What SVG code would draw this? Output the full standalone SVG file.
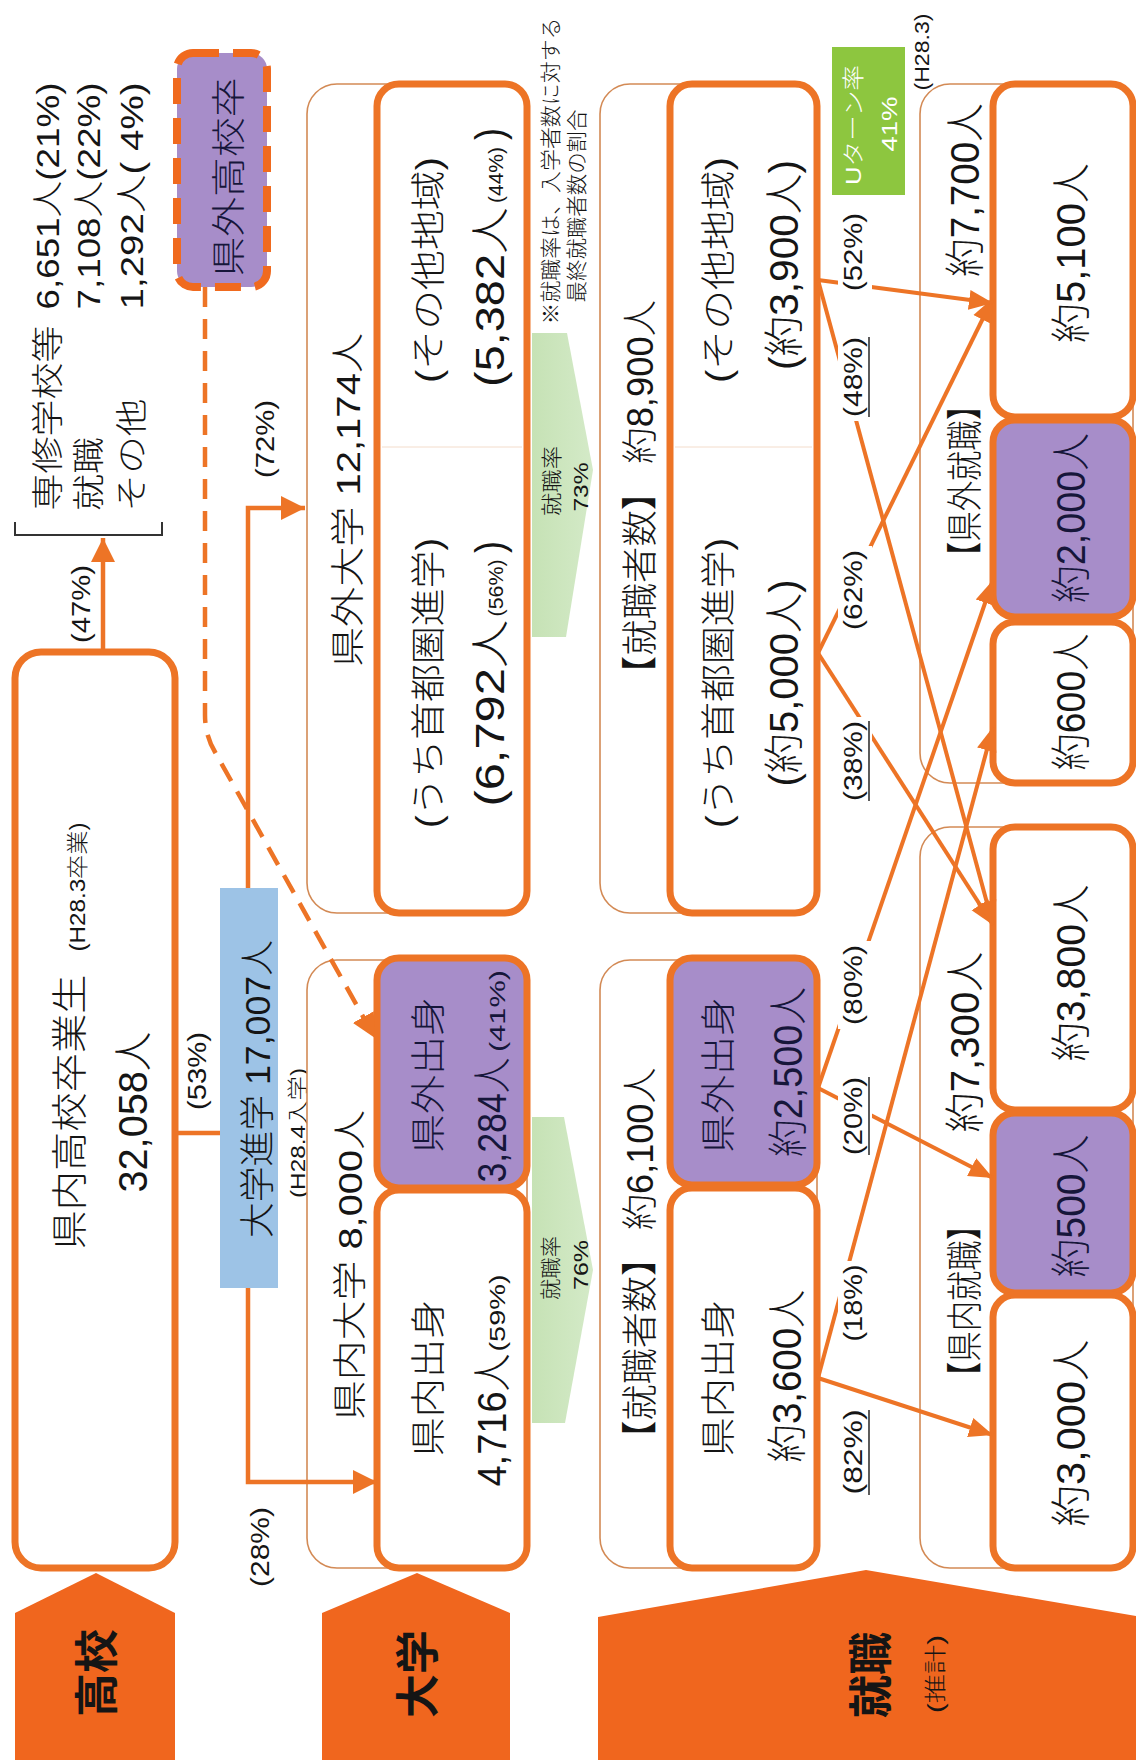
<svg xmlns="http://www.w3.org/2000/svg" width="1136" height="1760" viewBox="0 0 1136 1760">
<style>
.t{font-family:"Liberation Sans","Noto Sans CJK JP",sans-serif;font-weight:300;text-anchor:middle;dominant-baseline:central;fill:#151515}
.nv{fill:#16163a}
.b{font-weight:bold}
.box{fill:#fff;stroke:#ED7426;stroke-width:7}
.pur{fill:#A78DC9;stroke:#ED7426;stroke-width:7}
.outer{fill:#fff;stroke:#D38A55;stroke-width:1.6}
.stage{fill:#F0661E}
.ln{fill:none;stroke:#ED7426;stroke-width:4.5}
.fl{fill:none;stroke:#ED7426;stroke-width:4}
.lbg{fill:#fff}
.ul{stroke:#333;stroke-width:1.6}
.grn{fill:url(#gg)}
</style>
<defs>
<linearGradient id="gg" x1="0" y1="0" x2="1" y2="0">
<stop offset="0" stop-color="#C6E2B5"/>
<stop offset="1" stop-color="#D4EAC8"/>
</linearGradient>
<marker id="ah" markerUnits="userSpaceOnUse" markerWidth="26" markerHeight="24" refX="24" refY="12" orient="auto">
<path d="M0,0 L24,12 L0,24 z" fill="#ED7426"/>
</marker>
<marker id="ah2" markerUnits="userSpaceOnUse" markerWidth="26" markerHeight="22" refX="24" refY="11" orient="auto">
<path d="M0,1 L24,11 L0,21 z" fill="#ED7426"/>
</marker>
</defs>
<rect width="1136" height="1760" fill="#fff"/>

<!-- stage pentagons -->
<g id="stage-koukou">
<polygon class="stage" points="15,1760 15,1613 96,1573 175,1613 175,1760"/>
<text class="t b" transform="translate(97,1673) rotate(-90)" font-size="44" textLength="88" lengthAdjust="spacingAndGlyphs">高校</text>
</g>
<g id="stage-daigaku">
<polygon class="stage" points="322,1760 322,1613 417,1573 510,1613 510,1760"/>
<text class="t b" transform="translate(418,1674) rotate(-90)" font-size="44" textLength="88" lengthAdjust="spacingAndGlyphs">大学</text>
</g>
<g id="stage-shushoku">
<polygon class="stage" points="598,1760 598,1617 866,1570 1136,1616 1136,1760"/>
<text class="t b" transform="translate(871,1675) rotate(-90)" font-size="44" textLength="86" lengthAdjust="spacingAndGlyphs">就職</text>
<text class="t" transform="translate(935,1674) rotate(-90)" font-size="22" textLength="78" lengthAdjust="spacingAndGlyphs">(推計)</text>
</g>

<!-- high school -->
<g id="hs-grads">
<rect class="box" x="15" y="652" width="160" height="916" rx="26"/>
<text class="t" transform="translate(70,1112) rotate(-90)" font-size="36" textLength="275" lengthAdjust="spacingAndGlyphs">県内高校卒業生</text>
<text class="t" transform="translate(77,887) rotate(-90)" font-size="22" textLength="129" lengthAdjust="spacingAndGlyphs">(H28.3卒業)</text>
<text class="t" transform="translate(133,1112) rotate(-90)" font-size="40" textLength="161" lengthAdjust="spacingAndGlyphs">32,058人</text>
</g>
<g id="hs-other">
<path d="M15,522 V535 H162 V522" fill="none" stroke="#333" stroke-width="2"/>
<text class="t" transform="translate(48,418) rotate(-90)" font-size="32" textLength="185" lengthAdjust="spacingAndGlyphs">専修学校等</text>
<text class="t" transform="translate(48,196) rotate(-90)" font-size="32" textLength="227" lengthAdjust="spacingAndGlyphs">6,651人(21%)</text>
<text class="t" transform="translate(89,474) rotate(-90)" font-size="32" textLength="74" lengthAdjust="spacingAndGlyphs">就職</text>
<text class="t" transform="translate(89,196) rotate(-90)" font-size="32" textLength="227" lengthAdjust="spacingAndGlyphs">7,108人(22%)</text>
<text class="t" transform="translate(132,455) rotate(-90)" font-size="32" textLength="113" lengthAdjust="spacingAndGlyphs">その他</text>
<text class="t" transform="translate(132,196) rotate(-90)" font-size="32" textLength="227" lengthAdjust="spacingAndGlyphs">1,292人( 4%)</text>
</g>
<g id="hs-outside">
<rect x="177" y="53" width="90" height="234" rx="16" fill="#A78DC9" stroke="#F06A1E" stroke-width="8" stroke-dasharray="26 14"/>
<text class="t nv" transform="translate(229,177) rotate(-90)" font-size="34" textLength="199" lengthAdjust="spacingAndGlyphs">県外高校卒</text>
</g>
<g id="univ-entry">
<rect x="220" y="888" width="58" height="400" fill="#9DC3E6"/>
<text class="t" transform="translate(257,1089) rotate(-90)" font-size="35" textLength="298" lengthAdjust="spacingAndGlyphs">大学進学 17,007人</text>
<text class="t" transform="translate(297,1133) rotate(-90)" font-size="21" textLength="130" lengthAdjust="spacingAndGlyphs">(H28.4入学)</text>
</g>

<!-- university -->
<g id="univ-in">
<rect class="outer" x="307" y="960" width="220" height="608" rx="30"/>
<text class="t" transform="translate(350,1265) rotate(-90)" font-size="34" textLength="310" lengthAdjust="spacingAndGlyphs">県内大学 8,000人</text>
</g>
<g id="univ-in-outside">
<rect class="pur" x="377" y="958" width="150" height="230" rx="22"/>
<text class="t nv" transform="translate(428,1075) rotate(-90)" font-size="35" textLength="156" lengthAdjust="spacingAndGlyphs">県外出身</text>
<text class="t nv" transform="translate(492,1120) rotate(-90)" font-size="40" textLength="125" lengthAdjust="spacingAndGlyphs">3,284人</text>
<text class="t nv" transform="translate(497,1011) rotate(-90)" font-size="22" textLength="82" lengthAdjust="spacingAndGlyphs">(41%)</text>
</g>
<g id="univ-in-local">
<rect class="box" x="377" y="1190" width="150" height="378" rx="22"/>
<text class="t" transform="translate(428,1378) rotate(-90)" font-size="35" textLength="157" lengthAdjust="spacingAndGlyphs">県内出身</text>
<text class="t" transform="translate(492,1420) rotate(-90)" font-size="40" textLength="133" lengthAdjust="spacingAndGlyphs">4,716人</text>
<text class="t" transform="translate(497,1313) rotate(-90)" font-size="22" textLength="77" lengthAdjust="spacingAndGlyphs">(59%)</text>
</g>
<g id="univ-out">
<rect class="outer" x="307" y="84" width="220" height="829" rx="30"/>
<text class="t" transform="translate(348,500) rotate(-90)" font-size="34" textLength="334" lengthAdjust="spacingAndGlyphs">県外大学 12,174人</text>
<rect class="box" x="377" y="84" width="150" height="829" rx="22"/>
<line x1="382" y1="447" x2="522" y2="447" stroke="#F3DCCB" stroke-width="1"/>
</g>
<g id="univ-out-capital">
<text class="t" transform="translate(428,683) rotate(-90)" font-size="35" textLength="290" lengthAdjust="spacingAndGlyphs">(うち首都圏進学)</text>
<text class="t" transform="translate(490,713) rotate(-90)" font-size="40" textLength="187" lengthAdjust="spacingAndGlyphs">(6,792人</text>
<text class="t" transform="translate(496,588) rotate(-90)" font-size="20" textLength="57" lengthAdjust="spacingAndGlyphs">(56%)</text>
<text class="t" transform="translate(490,547) rotate(-90)" font-size="40" textLength="12" lengthAdjust="spacingAndGlyphs">)</text>
</g>
<g id="univ-out-other">
<text class="t" transform="translate(428,270) rotate(-90)" font-size="35" textLength="226" lengthAdjust="spacingAndGlyphs">(その他地域)</text>
<text class="t" transform="translate(490,297) rotate(-90)" font-size="40" textLength="180" lengthAdjust="spacingAndGlyphs">(5,382人</text>
<text class="t" transform="translate(496,175) rotate(-90)" font-size="20" textLength="56" lengthAdjust="spacingAndGlyphs">(44%)</text>
<text class="t" transform="translate(490,134) rotate(-90)" font-size="40" textLength="12" lengthAdjust="spacingAndGlyphs">)</text>
</g>

<!-- employment rate arrows -->
<g id="rate-73">
<polygon class="grn" points="532,333 567,333 593,470 566,637 532,637"/>
<text class="t" transform="translate(551,481) rotate(-90)" font-size="21" textLength="70" lengthAdjust="spacingAndGlyphs">就職率</text>
<text class="t" transform="translate(580,487) rotate(-90)" font-size="21" textLength="49" lengthAdjust="spacingAndGlyphs">73%</text>
</g>
<g id="rate-76">
<polygon class="grn" points="532,1117 564,1117 593,1270 565,1423 532,1423"/>
<text class="t" transform="translate(550,1268) rotate(-90)" font-size="21" textLength="64" lengthAdjust="spacingAndGlyphs">就職率</text>
<text class="t" transform="translate(580,1265) rotate(-90)" font-size="21" textLength="50" lengthAdjust="spacingAndGlyphs">76%</text>
</g>
<g id="note">
<text class="t" transform="translate(550,171) rotate(-90)" font-size="21" textLength="307" lengthAdjust="spacingAndGlyphs">※就職率は、入学者数に対する</text>
<text class="t" transform="translate(576,206) rotate(-90)" font-size="21" textLength="193" lengthAdjust="spacingAndGlyphs">最終就職者数の割合</text>
</g>

<!-- employment by origin -->
<g id="emp-in">
<rect class="outer" x="600" y="960" width="217" height="608" rx="30"/>
<text class="t" transform="translate(640,1262) rotate(-90)" font-size="36" textLength="389" lengthAdjust="spacingAndGlyphs">【就職者数】 約6,100人</text>
</g>
<g id="emp-in-outside">
<rect class="pur" x="670" y="958" width="147" height="227" rx="22"/>
<text class="t nv" transform="translate(718,1075) rotate(-90)" font-size="35" textLength="156" lengthAdjust="spacingAndGlyphs">県外出身</text>
<text class="t nv" transform="translate(788,1072) rotate(-90)" font-size="40" textLength="170" lengthAdjust="spacingAndGlyphs">約2,500人</text>
</g>
<g id="emp-in-local">
<rect class="box" x="670" y="1188" width="147" height="380" rx="22"/>
<text class="t" transform="translate(718,1378) rotate(-90)" font-size="35" textLength="157" lengthAdjust="spacingAndGlyphs">県内出身</text>
<text class="t" transform="translate(787,1376) rotate(-90)" font-size="40" textLength="173" lengthAdjust="spacingAndGlyphs">約3,600人</text>
</g>
<g id="emp-out">
<rect class="outer" x="600" y="84" width="217" height="829" rx="30"/>
<text class="t" transform="translate(640,496) rotate(-90)" font-size="36" textLength="392" lengthAdjust="spacingAndGlyphs">【就職者数】 約8,900人</text>
<rect class="box" x="670" y="84" width="147" height="829" rx="22"/>
<line x1="675" y1="447" x2="812" y2="447" stroke="#F3DCCB" stroke-width="1"/>
</g>
<g id="emp-out-capital">
<text class="t" transform="translate(718,683) rotate(-90)" font-size="35" textLength="290" lengthAdjust="spacingAndGlyphs">(うち首都圏進学)</text>
<text class="t" transform="translate(784,683) rotate(-90)" font-size="40" textLength="207" lengthAdjust="spacingAndGlyphs">(約5,000人)</text>
</g>
<g id="emp-out-other">
<text class="t" transform="translate(718,270) rotate(-90)" font-size="35" textLength="226" lengthAdjust="spacingAndGlyphs">(その他地域)</text>
<text class="t" transform="translate(784,265) rotate(-90)" font-size="40" textLength="210" lengthAdjust="spacingAndGlyphs">(約3,900人)</text>
</g>

<!-- destination -->
<g id="dest-out">
<rect class="outer" x="920" y="84" width="213" height="699" rx="30"/>
<text class="t" transform="translate(965,481) rotate(-90)" font-size="36" textLength="182" lengthAdjust="spacingAndGlyphs">【県外就職】</text>
<text class="t" transform="translate(965,190) rotate(-90)" font-size="40" textLength="174" lengthAdjust="spacingAndGlyphs">約7,700人</text>
<text class="t" transform="translate(922,52) rotate(-90)" font-size="20" textLength="77" lengthAdjust="spacingAndGlyphs">(H28.3)</text>
</g>
<g id="dest-out-5100">
<rect class="box" x="993" y="84" width="140" height="333" rx="22"/>
<text class="t" transform="translate(1071,253) rotate(-90)" font-size="40" textLength="180" lengthAdjust="spacingAndGlyphs">約5,100人</text>
</g>
<g id="dest-out-2000">
<rect class="pur" x="993" y="420" width="140" height="197" rx="22"/>
<text class="t nv" transform="translate(1071,518) rotate(-90)" font-size="40" textLength="170" lengthAdjust="spacingAndGlyphs">約2,000人</text>
</g>
<g id="dest-out-600">
<rect class="box" x="993" y="622" width="140" height="161" rx="22"/>
<text class="t" transform="translate(1071,702) rotate(-90)" font-size="40" textLength="137" lengthAdjust="spacingAndGlyphs">約600人</text>
</g>
<g id="dest-in">
<rect class="outer" x="920" y="827" width="213" height="741" rx="30"/>
<text class="t" transform="translate(965,1301) rotate(-90)" font-size="36" textLength="182" lengthAdjust="spacingAndGlyphs">【県内就職】</text>
<text class="t" transform="translate(965,1042) rotate(-90)" font-size="40" textLength="181" lengthAdjust="spacingAndGlyphs">約7,300人</text>
</g>
<g id="dest-in-3800">
<rect class="box" x="993" y="827" width="140" height="283" rx="22"/>
<text class="t" transform="translate(1071,973) rotate(-90)" font-size="40" textLength="177" lengthAdjust="spacingAndGlyphs">約3,800人</text>
</g>
<g id="dest-in-500">
<rect class="pur" x="993" y="1113" width="140" height="180" rx="22"/>
<text class="t nv" transform="translate(1071,1206) rotate(-90)" font-size="40" textLength="143" lengthAdjust="spacingAndGlyphs">約500人</text>
</g>
<g id="dest-in-3000">
<rect class="box" x="993" y="1295" width="140" height="273" rx="22"/>
<text class="t" transform="translate(1071,1433) rotate(-90)" font-size="40" textLength="187" lengthAdjust="spacingAndGlyphs">約3,000人</text>
</g>
<g id="uturn">
<rect x="832" y="47" width="73" height="148" fill="#8DC63F"/>
<text class="t" transform="translate(853,125) rotate(-90)" font-size="22" textLength="120" lengthAdjust="spacingAndGlyphs" style="fill:#fff">Uターン率</text>
<text class="t" transform="translate(889,124) rotate(-90)" font-size="22" textLength="55" lengthAdjust="spacingAndGlyphs" style="fill:#fff">41%</text>
</g>

<!-- connectors -->
<g id="connectors">
<path class="ln" d="M175,1133 H220"/>
<path class="ln" d="M103,652 V538" marker-end="url(#ah)"/>
<path class="ln" d="M248,888 V508 H305" marker-end="url(#ah)"/>
<path class="ln" d="M248,1288 V1482 H377" marker-end="url(#ah)"/>
<path d="M205,287 V715 Q205,735 215,752 L375,1038" fill="none" stroke="#ED7426" stroke-width="4.5" stroke-dasharray="20 12" marker-end="url(#ah)"/>
<path class="fl" d="M818,1378 L993,1435" marker-end="url(#ah2)"/>
<path class="fl" d="M818,1378 L993,727" marker-end="url(#ah2)"/>
<path class="fl" d="M818,1088 L993,1178" marker-end="url(#ah2)"/>
<path class="fl" d="M818,1088 L993,580" marker-end="url(#ah2)"/>
<path class="fl" d="M818,653 L993,925" marker-end="url(#ah2)"/>
<path class="fl" d="M818,653 L993,298" marker-end="url(#ah2)"/>
<path class="fl" d="M818,280 L993,925" marker-end="url(#ah2)"/>
<path class="fl" d="M818,280 L993,303" marker-end="url(#ah2)"/>
<g id="flow-labels">
<text class="t" transform="translate(197,1071) rotate(-90)" font-size="26" textLength="78" lengthAdjust="spacingAndGlyphs">(53%)</text>
<text class="t" transform="translate(81,604) rotate(-90)" font-size="26" textLength="78" lengthAdjust="spacingAndGlyphs">(47%)</text>
<text class="t" transform="translate(265,439) rotate(-90)" font-size="26" textLength="78" lengthAdjust="spacingAndGlyphs">(72%)</text>
<text class="t" transform="translate(260,1547) rotate(-90)" font-size="26" textLength="80" lengthAdjust="spacingAndGlyphs">(28%)</text>
<rect class="lbg" x="838" y="1406" width="34" height="93"/>
<text class="t" transform="translate(853,1452) rotate(-90)" font-size="26" textLength="85" lengthAdjust="spacingAndGlyphs">(82%)</text>
<line class="ul" x1="869" y1="1410" x2="869" y2="1495"/>
<rect class="lbg" x="838" y="1261" width="34" height="85"/>
<text class="t" transform="translate(853,1303) rotate(-90)" font-size="26" textLength="77" lengthAdjust="spacingAndGlyphs">(18%)</text>
<rect class="lbg" x="838" y="1073" width="34" height="86"/>
<text class="t" transform="translate(853,1116) rotate(-90)" font-size="26" textLength="78" lengthAdjust="spacingAndGlyphs">(20%)</text>
<line class="ul" x1="869" y1="1077" x2="869" y2="1155"/>
<rect class="lbg" x="838" y="941" width="34" height="88"/>
<text class="t" transform="translate(853,985) rotate(-90)" font-size="26" textLength="80" lengthAdjust="spacingAndGlyphs">(80%)</text>
<rect class="lbg" x="838" y="717" width="34" height="88"/>
<text class="t" transform="translate(853,761) rotate(-90)" font-size="26" textLength="80" lengthAdjust="spacingAndGlyphs">(38%)</text>
<line class="ul" x1="869" y1="721" x2="869" y2="801"/>
<rect class="lbg" x="838" y="546" width="34" height="88"/>
<text class="t" transform="translate(853,590) rotate(-90)" font-size="26" textLength="80" lengthAdjust="spacingAndGlyphs">(62%)</text>
<rect class="lbg" x="838" y="333" width="34" height="88"/>
<text class="t" transform="translate(853,377) rotate(-90)" font-size="26" textLength="80" lengthAdjust="spacingAndGlyphs">(48%)</text>
<line class="ul" x1="869" y1="337" x2="869" y2="417"/>
<rect class="lbg" x="838" y="209" width="34" height="86"/>
<text class="t" transform="translate(853,252) rotate(-90)" font-size="26" textLength="78" lengthAdjust="spacingAndGlyphs">(52%)</text>
</g>
</g>
</svg>
